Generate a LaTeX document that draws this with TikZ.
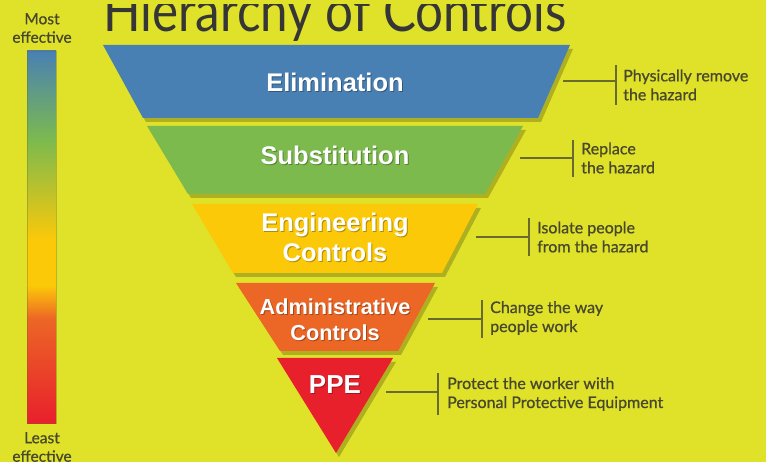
\documentclass[tikz,border=0pt]{standalone}
\usepackage{fontspec}
\setmainfont{Liberation Sans}
\newfontfamily\lbl{Lato}[FakeBold=0.8]
\newfontfamily\ttl{Lato}
\usetikzlibrary{shadows}
\definecolor{bg}{HTML}{E0E22A}
\definecolor{cblue}{HTML}{4980B4}
\definecolor{cgreen}{HTML}{7CBA4E}
\definecolor{cyellow}{HTML}{FCC908}
\definecolor{corange}{HTML}{EC6626}
\definecolor{cred}{HTML}{E8202C}
\definecolor{lblc}{HTML}{48482C}
\definecolor{brkc}{HTML}{6A6A2E}
\definecolor{titlec}{HTML}{363636}
\pgfdeclareverticalshading{effbar}{100bp}{color(0bp)=(cred); color(25bp)=(cred); color(39bp)=(corange); color(43.5bp)=(cyellow); color(49.5bp)=(cyellow); color(63bp)=(cgreen); color(75bp)=(cblue); color(100bp)=(cblue)}
\begin{document}
\begin{tikzpicture}[x=1pt,y=-1pt,
  band/.style={drop shadow={shadow xshift=3pt,shadow yshift=-4pt,opacity=.22,fill=black}},
  bandlbl/.style={text=white,font=\bfseries\fontsize{25.5}{30}\selectfont,align=center,inner sep=0},
  bandshd/.style={text=black,opacity=.3,font=\bfseries\fontsize{25.5}{30}\selectfont,align=center,inner sep=0},
  lbltext/.style={text=lblc,font=\lbl\fontsize{16}{19}\selectfont,align=left,inner sep=0,anchor=west},
  sidetext/.style={text=lblc,font=\lbl\fontsize{15.5}{18.5}\selectfont,align=center,inner sep=0},
  brk/.style={draw=brkc,line width=1.5pt},
]
\useasboundingbox (0,0) rectangle (766,462);
\fill[bg] (0,0) rectangle (766,462);

% title (cropped at the top)
\node[anchor=base west,font=\ttl\fontsize{58}{58}\selectfont,text=titlec,inner sep=0] (title) at (103,32) {\scalebox{0.85}[1]{Hierarchy of Controls}};
\fill[bg] (0,0) rectangle (766,4);

% effectiveness bar
\node[sidetext] (most) at (42,28) {Most\\effective};
\fill[shading=effbar] (27,51) rectangle (56,423);
\draw[brkc,opacity=.35,line width=0.8pt] (27,51) rectangle (56,423);
\node[sidetext] (least) at (42,447) {Least\\effective};

% bands
\fill[cblue,band] (103,45) -- (570,45) -- (538,118) -- (143,118) -- cycle;
\fill[cgreen,band] (147,126) -- (523,126) -- (485,194) -- (188,194) -- cycle;
\fill[cyellow,band] (192,204) -- (478,204) -- (442,273) -- (233,273) -- cycle;
\fill[corange,band] (236,283) -- (435,283) -- (398,351) -- (280,351) -- cycle;
\fill[cred,band] (277,358) -- (393,358) -- (336,453) -- cycle;

% band labels
\node[bandshd] at (336,83) {Elimination};
\node[bandlbl] (elim) at (335,82) {Elimination};
\node[bandshd] at (336,156) {Substitution};
\node[bandlbl] (subs) at (335,155) {Substitution};
\node[bandshd] at (336,238) {Engineering\\Controls};
\node[bandlbl] (eng) at (335,237) {Engineering\\Controls};
\node[bandshd,font=\bfseries\fontsize{21.7}{26}\selectfont] at (336,321) {Administrative\\Controls};
\node[bandlbl,font=\bfseries\fontsize{21.7}{26}\selectfont] (adm) at (335,320) {Administrative\\Controls};
\node[bandshd,font=\bfseries\fontsize{26}{30}\selectfont] at (336,386) {PPE};
\node[bandlbl,font=\bfseries\fontsize{26}{30}\selectfont] (ppe) at (335,385) {PPE};

% side descriptions
\node[lbltext] (d1) at (623,85) {Physically remove\\the hazard};
\node[lbltext] (d2) at (581,158) {Replace\\the hazard};
\node[lbltext] (d3) at (537,237) {Isolate people\\from the hazard};
\node[lbltext] (d4) at (490,318) {Change the way\\people work};
\node[lbltext] (d5) at (447,394) {Protect the worker with\\Personal Protective Equipment};

% brackets
\coordinate (a1) at (563,81); \coordinate (b1) at (616,81);
\coordinate (t1) at (616,65); \coordinate (u1) at (616,105);
\coordinate (a2) at (520,158); \coordinate (b2) at (573,158);
\coordinate (t2) at (573,140); \coordinate (u2) at (573,177);
\coordinate (a3) at (476,237); \coordinate (b3) at (529,237);
\coordinate (t3) at (529,218); \coordinate (u3) at (529,256);
\coordinate (a4) at (428,319); \coordinate (b4) at (482,319);
\coordinate (t4) at (482,300); \coordinate (u4) at (482,338);
\coordinate (a5) at (386,392); \coordinate (b5) at (438,392);
\coordinate (t5) at (438,373); \coordinate (u5) at (438,415);
\foreach \i in {1,...,5}{
  \draw[brk] (a\i) -- (b\i);
  \draw[brk] (t\i) -- (u\i);
}
\end{tikzpicture}
\end{document}
